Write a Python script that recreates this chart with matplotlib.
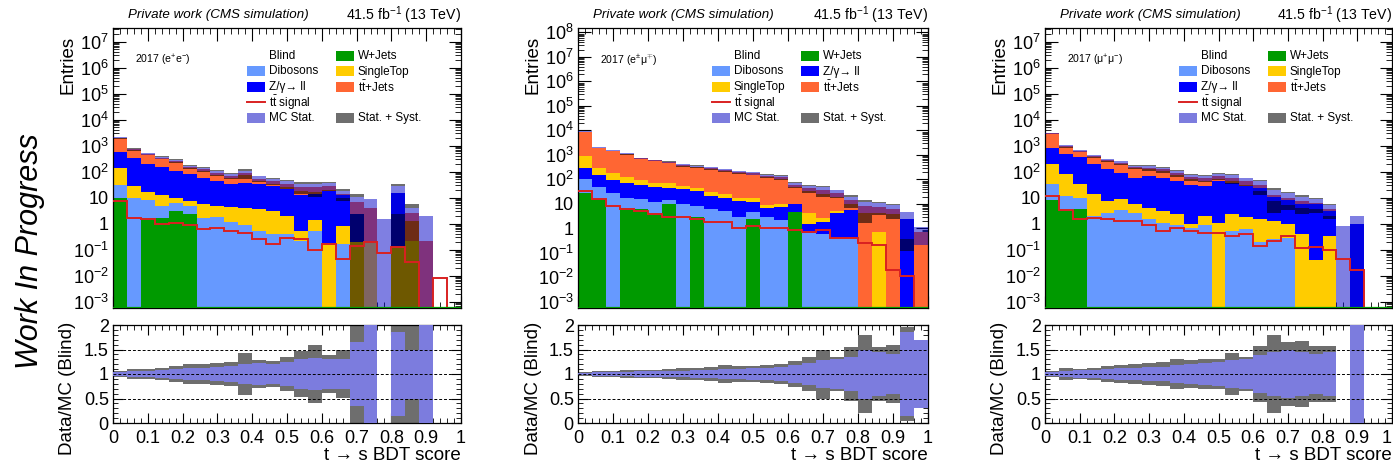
import numpy as np
import matplotlib
matplotlib.use("Agg")
import matplotlib.pyplot as plt
from matplotlib.patches import Rectangle
from matplotlib.lines import Line2D
from matplotlib.ticker import FixedLocator, FixedFormatter, NullFormatter, MultipleLocator

plt.rcParams['font.family'] = ['Liberation Sans', 'DejaVu Sans']
plt.rcParams['mathtext.fontset'] = 'custom'
plt.rcParams['mathtext.rm'] = 'Liberation Sans'
plt.rcParams['mathtext.it'] = 'Liberation Sans:italic'
plt.rcParams['mathtext.bf'] = 'Liberation Sans:bold'

# ---------------- data ----------------
bin_edges = [0.00, 0.04, 0.08, 0.12, 0.16, 0.20, 0.24, 0.28, 0.32, 0.36, 0.40, 0.44, 0.48,
             0.52, 0.56, 0.60, 0.64, 0.68, 0.72, 0.76, 0.80, 0.84, 0.88, 0.92, 0.96, 1.00]

# ee channel
ee_wjets = [9.8, 0, 1.7, 1.7, 3.0, 2.25, 0, 0, 0, 0, 0, 0, 0, 0, 0, 0, 0, 0, 0, 0, 0, 0, 0, 0, 0]
ee_dib = [20, 9.8, 6, 3, 3.3, 2.45, 1.6, 1.8, 1.15, 0.87, 0.52, 0.4, 0.4, 0.21, 0.52, 0, 0.17, 0, 0, 0, 0, 0, 0, 0, 0]
ee_st = [110, 18, 8, 8, 3.5, 2.6, 4.2, 2.9, 3.15, 3.2, 3.0, 2.6, 1.5, 0.3, 0.8, 0.18, 0.63, 0.2, 0.18, 0, 0.12, 0.21, 0, 0, 0]
ee_z = [440, 310, 175, 140, 95, 71, 52, 38, 30, 33, 30, 25, 20, 12, 12, 18, 11.8, 2.05, 0, 0, 15, 0, 0, 0, 0]
ee_tt = [1400, 370, 270, 185, 145, 72, 62, 47, 33, 53, 20, 15, 12, 14, 12, 10, 1.5, 4.2, 3.9, 0, 0, 2.4, 0.21, 0, 0]
ee_sig = [7.4, 1.58, 1.45, 0.93, 1.08, 0.85, 0.6, 0.69, 0.52, 0.42, 0.25, 0.17, 0.27, 0.25, 0.1, 0.16,
          0.044, 0.137, 0.2, 0.076, 0.12, 0.034, 0, 0.008, 0]
ee_stat = [0.04, 0.06, 0.07, 0.08, 0.1, 0.12, 0.13, 0.15, 0.16, 0.2, 0.22, 0.2, 0.25, 0.3, 0.33, 0.3,
           0.3, 0.65, 1.1, 0, 0.85, 0.5, 8.3, 0, 0]
ee_tot = [0.07, 0.1, 0.1, 0.12, 0.17, 0.2, 0.2, 0.22, 0.25, 0.42, 0.28, 0.27, 0.35, 0.47, 0.6, 0.38,
          0.48, 1.2, 1.2, 0, 1.1, 1.1, 8.3, 0, 0]
ee_empty_band = [0, 0, 0, 0, 0, 0, 0, 0, 0, 0, 0, 0, 0, 0, 0, 0, 0, 0, 0, 1.45, 0, 0, 0, 0, 0]

# e mu channel
em_wjets = [29, 16, 0, 6.6, 6, 4.4, 10, 0, 3, 0, 0, 0, 2.5, 0, 0, 4.8, 0, 0, 0, 0, 0, 0, 0, 0, 0]
em_dib = [71, 32, 27, 10, 9.5, 8, 5, 10, 5, 6, 5, 3, 2, 2.8, 2.3, 0, 0.63, 0.6, 0.4, 0.4, 0, 0, 0, 0, 0]
em_z = [190, 97, 69, 52, 44, 38, 30, 30, 25, 15, 13, 10, 8, 4, 5, 5, 0.9, 1.3, 3.8, 5.2, 0, 0, 0, 2.5, 0]
em_st = [570, 145, 84, 61, 36, 23, 23, 12, 10, 10, 7, 5, 5, 2, 3, 0.5, 2.9, 0.7, 0.9, 0, 0, 0.68, 0, 0, 0]
em_tt = [8100, 1710, 1320, 970, 620, 520, 430, 330, 290, 250, 210, 180, 160, 130, 110, 49, 40, 34, 22, 9,
         8.3, 6.8, 6.2, 0, 0.69]
em_sig = [35, 15.5, 8.3, 6.1, 4.9, 3.9, 3.0, 3.0, 2.4, 1.9, 1.9, 1.08, 1.25, 1.08, 1.0, 0.82, 0.7, 0.87,
          0.4, 0.4, 0.26, 0.21, 0.02, 0.011, 0]
em_stat = [0.03, 0.04, 0.05, 0.05, 0.06, 0.06, 0.07, 0.07, 0.08, 0.09, 0.1, 0.1, 0.12, 0.13, 0.15, 0.18,
           0.22, 0.28, 0.3, 0.35, 0.5, 0.45, 0.4, 0.85, 0.7]
em_tot = [0.05, 0.07, 0.07, 0.08, 0.08, 0.09, 0.1, 0.13, 0.12, 0.14, 0.18, 0.16, 0.17, 0.18, 0.2, 0.27,
          0.35, 0.5, 0.35, 0.55, 0.8, 0.55, 0.6, 0.95, 0.7]
em_empty_band = [0] * 25

# mu mu channel
mm_wjets = [7.8, 2.9, 3.5, 0, 0, 0, 0, 0, 0, 0, 0, 0, 0, 0, 0, 0, 0, 0, 0, 0, 0, 0, 0, 0, 0]
mm_dib = [26, 8.5, 6.5, 1.95, 2.6, 3.2, 2.5, 1.45, 1.07, 0.88, 0.7, 0.9, 0, 0.52, 0.6, 0.2, 0.25, 0.28,
          0, 0, 0, 0, 0, 0, 0]
mm_st = [156, 67, 24, 12, 4.7, 5.3, 3, 2.65, 1.93, 1.37, 0.3, 1.1, 1.07, 1.73, 1.2, 1.25, 1.0, 0.65,
         0.38, 0.04, 0.33, 0, 0, 0, 0]
mm_z = [640, 382, 326, 186, 113, 81, 52, 63, 52, 41, 30, 25, 42, 35, 26, 22.5, 9, 6.9, 5.1, 5.5, 2.7, 0,
        0.97, 0, 0]
mm_tt = [2070, 500, 260, 190, 150, 130, 92, 73, 66, 48, 31, 28, 24, 21, 15, 6, 2.7, 2, 1.8, 0.5, 0.6, 0,
         0, 0, 0]
mm_sig = [11.4, 3.2, 1.45, 1.58, 1.45, 1.25, 1.25, 0.88, 0.52, 0.65, 0.52, 0.42, 0.45, 0.33, 0.38, 0.135,
          0.21, 0.33, 0.11, 0.126, 0.1, 0.042, 0.017, 0, 0]
mm_stat = [0.04, 0.07, 0.08, 0.09, 0.1, 0.12, 0.12, 0.14, 0.15, 0.18, 0.2, 0.22, 0.25, 0.28, 0.3, 0.38,
           0.45, 0.48, 0.45, 0.4, 0.45, 0, 1.06, 0, 0]
mm_tot = [0.07, 0.13, 0.1, 0.12, 0.17, 0.18, 0.2, 0.22, 0.25, 0.3, 0.28, 0.3, 0.3, 0.42, 0.35, 0.58,
          0.8, 0.65, 0.68, 0.58, 0.58, 0, 1.06, 0, 0]
mm_empty_band = [0, 0, 0, 0, 0, 0, 0, 0, 0, 0, 0, 0, 0, 0, 0, 0, 0, 0, 0, 0, 0, 0.8, 0, 0, 0]

x_tick_labels = ["0", "0.1", "0.2", "0.3", "0.4", "0.5", "0.6", "0.7", "0.8", "0.9", "1"]
ratio_tick_labels = ["0", "0.5", "1", "1.5", "2"]

# ---------------- style ----------------
C_W = '#009a00'
C_DIB = '#6699ff'
C_ST = '#ffcc00'
C_Z = '#0000ff'
C_TT = '#ff6633'
C_SIG = '#d92121'
STAT_RGBA = (0.0, 0.0, 0.78, 0.5)
SYST_RGBA = (0.0, 0.0, 0.0, 0.57)
RATIO_STAT = '#7c7cde'
RATIO_SYST = '#6e6e6e'

W, H = 1393, 465
fig = plt.figure(figsize=(W / 100, H / 100), dpi=100)

edges = np.array(bin_edges)
lo_e = edges[:-1]
wid = np.diff(edges)

names = {'W': 'W+Jets', 'DIB': 'Dibosons', 'ST': 'SingleTop', 'Z': 'Z/γ→ ll',
         'TT': r'$\mathrm{t\bar{t}}$+Jets'}
colors = {'W': C_W, 'DIB': C_DIB, 'ST': C_ST, 'Z': C_Z, 'TT': C_TT}

panels = [
    dict(l=113, r=461, lab=r'2017 (e$^{+}$e$^{-}$)', ylog=(-3.25, 7.52),
         comps=[('W', ee_wjets), ('DIB', ee_dib), ('ST', ee_st), ('Z', ee_z), ('TT', ee_tt)],
         sig=ee_sig, stat=ee_stat, tot=ee_tot, empty=ee_empty_band),
    dict(l=578, r=928, lab=r'2017 (e$^{\pm}$μ$^{\mp}$)', ylog=(-3.25, 8.18),
         comps=[('W', em_wjets), ('DIB', em_dib), ('Z', em_z), ('ST', em_st), ('TT', em_tt)],
         sig=em_sig, stat=em_stat, tot=em_tot, empty=em_empty_band),
    dict(l=1045, r=1392, lab=r'2017 (μ$^{+}$μ$^{-}$)', ylog=(-3.25, 7.52),
         comps=[('W', mm_wjets), ('DIB', mm_dib), ('ST', mm_st), ('Z', mm_z), ('TT', mm_tt)],
         sig=mm_sig, stat=mm_stat, tot=mm_tot, empty=mm_empty_band),
]

TICK_FS = 13
FLOOR = 1e-6


def log_label(k):
    if k == 0:
        return '1'
    if k == 1:
        return '10'
    return r'$10^{%d}$' % k


for pi, p in enumerate(panels):
    l, r = p['l'], p['r']
    ax = fig.add_axes([l / W, 1 - 308 / H, (r - l) / W, 280 / H])
    ax.set_yscale('log')
    y0, y1 = 10 ** p['ylog'][0], 10 ** p['ylog'][1]

    cum = np.zeros(25)
    for key, vals in p['comps']:
        v = np.array(vals, dtype=float)
        bot = np.maximum(cum, FLOOR)
        top = cum + v
        mask = v > 0
        ax.bar(lo_e[mask], (top - bot)[mask], width=wid[mask], bottom=bot[mask], align='edge',
               color=colors[key], linewidth=0, zorder=2)
        cum = top
    total = cum

    # uncertainty bands on the stack
    stat = np.array(p['stat'])
    tot = np.array(p['tot'])
    for i in range(25):
        if total[i] > 0:
            T = total[i]
            s_lo = max(T * (1 - stat[i]), FLOOR)
            s_hi = T * (1 + stat[i])
            t_lo = max(T * (1 - tot[i]), FLOOR)
            t_hi = T * (1 + tot[i])
            if t_hi > s_hi:
                ax.add_patch(Rectangle((lo_e[i], s_hi), wid[i], t_hi - s_hi, facecolor=SYST_RGBA,
                                       linewidth=0, zorder=3))
            if s_lo > t_lo:
                ax.add_patch(Rectangle((lo_e[i], t_lo), wid[i], s_lo - t_lo, facecolor=SYST_RGBA,
                                       linewidth=0, zorder=3))
            ax.add_patch(Rectangle((lo_e[i], s_lo), wid[i], s_hi - s_lo, facecolor=STAT_RGBA,
                                   linewidth=0, zorder=3))
        elif p['empty'][i] > 0:
            ax.add_patch(Rectangle((lo_e[i], FLOOR), wid[i], p['empty'][i], facecolor=STAT_RGBA,
                                   linewidth=0, zorder=3))

    sig = np.array(p['sig'], dtype=float)
    sig_plot = np.where(sig > 0, sig, FLOOR)
    ax.stairs(sig_plot, edges, color=C_SIG, linewidth=1.4, zorder=4, baseline=None)
    ax.axhline(y0 * 1.03, color=C_W, linewidth=1.6, zorder=5)

    ax.set_xlim(0, 1)
    ax.set_ylim(y0, y1)
    kmin, kmax = int(np.ceil(p['ylog'][0])), int(np.floor(p['ylog'][1]))
    ks = list(range(kmin, kmax + 1))
    ax.yaxis.set_major_locator(FixedLocator([10.0 ** k for k in ks]))
    ax.yaxis.set_major_formatter(FixedFormatter([log_label(k) for k in ks]))
    minors = [m * 10.0 ** k for k in range(kmin - 1, kmax + 1) for m in range(2, 10)]
    ax.yaxis.set_minor_locator(FixedLocator(minors))
    ax.yaxis.set_minor_formatter(NullFormatter())
    ax.xaxis.set_major_locator(MultipleLocator(0.1))
    ax.xaxis.set_minor_locator(MultipleLocator(0.02))
    ax.xaxis.set_major_formatter(NullFormatter())
    ax.tick_params(which='both', direction='in', top=True, right=True, labelsize=TICK_FS, pad=3)
    ax.tick_params(which='major', length=9, width=0.8)
    ax.tick_params(which='minor', length=4.5, width=0.6)
    for sp in ax.spines.values():
        sp.set_linewidth(0.9)

    # texts
    fig.text((l + 15) / W, 1 - 15 / H, 'Private work (CMS simulation)', fontsize=9.6, style='italic',
             ha='left', va='center')
    fig.text(r / W, 1 - 15 / H, r'41.5 fb$^{-1}$ (13 TeV)', fontsize=10.2, ha='right', va='center')
    fig.text((l + 22) / W, 1 - 60 / H, p['lab'], fontsize=7.6, ha='left', va='center')
    fig.text((l - 45) / W, 1 - 36 / H, 'Entries', fontsize=13.5, rotation=90, ha='center', va='top')

    # legend (row-major, two columns)
    order = [k for k, _ in p['comps']]
    entries = [('text', 'Blind', None)] + [('box', names[k], colors[k]) for k in order] + \
              [('line', r'$\mathrm{t\bar{t}}$ signal', C_SIG), None,
               ('stat', 'MC Stat.', None), ('syst', 'Stat. + Syst.', None)]
    rows_y = [56, 71.5, 87, 102.5, 118]
    for idx, ent in enumerate(entries):
        if ent is None:
            continue
        row, col = divmod(idx, 2)
        yy = rows_y[row]
        bx = l + (134 if col == 0 else 223)
        tx = l + (156 if col == 0 else 245)
        kind, txt, c = ent
        if kind == 'box':
            fig.patches.append(Rectangle((bx / W, 1 - (yy + 5) / H), 18 / W, 10 / H, facecolor=c,
                                         linewidth=0, transform=fig.transFigure, figure=fig))
        elif kind == 'stat':
            fig.patches.append(Rectangle((bx / W, 1 - (yy + 5) / H), 18 / W, 10 / H,
                                         facecolor=RATIO_STAT, linewidth=0,
                                         transform=fig.transFigure, figure=fig))
        elif kind == 'syst':
            fig.patches.append(Rectangle((bx / W, 1 - (yy + 5) / H), 18 / W, 10 / H,
                                         facecolor=RATIO_SYST, linewidth=0,
                                         transform=fig.transFigure, figure=fig))
        elif kind == 'line':
            fig.lines.append(Line2D([bx / W, (bx + 18) / W], [1 - yy / H, 1 - yy / H], color=c,
                                    linewidth=1.4, transform=fig.transFigure, figure=fig))
        fig.text(tx / W, 1 - yy / H, txt, fontsize=8.5, ha='left', va='center')

    # ratio panel
    rx = fig.add_axes([l / W, 1 - 423 / H, (r - l) / W, 98 / H])
    for i in range(25):
        if total[i] > 0:
            t_lo = max(1 - tot[i], 0)
            t_hi = min(1 + tot[i], 2)
            s_lo = max(1 - stat[i], 0)
            s_hi = min(1 + stat[i], 2)
            rx.add_patch(Rectangle((lo_e[i], t_lo), wid[i], t_hi - t_lo, facecolor=RATIO_SYST,
                                   linewidth=0, zorder=2))
            rx.add_patch(Rectangle((lo_e[i], s_lo), wid[i], s_hi - s_lo, facecolor=RATIO_STAT,
                                   linewidth=0, zorder=3))
    for yl in (0.5, 1.0, 1.5):
        rx.axhline(yl, color='black', linewidth=0.7, linestyle=(0, (3, 2)), zorder=4)
    rx.set_xlim(0, 1)
    rx.set_ylim(0, 2)
    rx.xaxis.set_major_locator(FixedLocator([0, 0.1, 0.2, 0.3, 0.4, 0.5, 0.6, 0.7, 0.8, 0.9, 1.0]))
    rx.xaxis.set_major_formatter(FixedFormatter(x_tick_labels))
    rx.xaxis.set_minor_locator(MultipleLocator(0.02))
    rx.yaxis.set_major_locator(FixedLocator([0, 0.5, 1, 1.5, 2]))
    rx.yaxis.set_major_formatter(FixedFormatter(ratio_tick_labels))
    rx.yaxis.set_minor_locator(MultipleLocator(0.1))
    rx.tick_params(which='both', direction='in', top=True, right=True, labelsize=TICK_FS, pad=3)
    rx.tick_params(which='major', length=7, width=0.8)
    rx.tick_params(which='minor', length=3.5, width=0.6)
    rx.tick_params(axis='x', pad=5)
    for sp in rx.spines.values():
        sp.set_linewidth(0.9)
    if pi == 2:
        fig.canvas.draw()
        rx.get_xticklabels()[-1].set_horizontalalignment('right')
    fig.text(r / W, 1 - 455 / H, 't → s BDT score', fontsize=13.5, ha='right', va='center')
    fig.text((l - 45) / W, 1 - 322 / H, 'Data/MC (Blind)', fontsize=13.5, rotation=90, ha='center',
             va='top')

fig.text(30 / W, 1 - 251 / H, 'Work In Progress', fontsize=22, style='italic', rotation=90,
         ha='center', va='center')

fig.savefig('out.png', dpi=100)
